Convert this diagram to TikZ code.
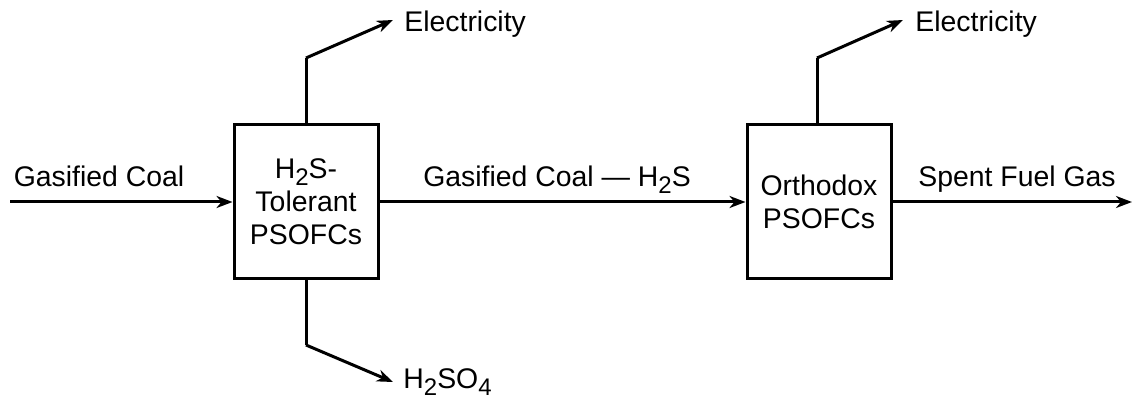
\documentclass[tikz,border=0pt]{standalone}
\usepackage{fontspec}
\setmainfont{Liberation Sans}
\usetikzlibrary{arrows.meta}
\newcommand{\sbs}[1]{\raisebox{-0.24em}{\fontsize{12}{12}\selectfont #1}}

\begin{document}
\begin{tikzpicture}[x=0.5pt,y=0.5pt,
    font=\fontsize{14.2}{16.5}\selectfont,
    cell/.style={draw,line width=1.5pt,align=center,minimum width=72pt,minimum height=77pt,inner sep=0pt},
    flow/.style={line width=1.5pt,-{Stealth[length=8pt,width=6pt,inset=2.5pt]}},
    pipe/.style={line width=1.5pt},
    lbl/.style={anchor=base,inner sep=0pt,yshift=7.5pt}]
    \useasboundingbox (0,0) rectangle (1132,402);
    % fuel cell stacks
    \node[cell] (tol) at (306,200) {H\sbs{2}S-\\Tolerant\\PSOFCs};
    \node[cell] (orth) at (819,200) {Orthodox\\PSOFCs};
    % free ends
    \coordinate (gcin) at (10,200);
    \coordinate (gcout) at (1132,200);
    \coordinate (e1bend) at (306,344);
    \coordinate (e1tip) at (393,382);
    \coordinate (e2bend) at (817,344);
    \coordinate (e2tip) at (903,382);
    \coordinate (sbend) at (306,57);
    \coordinate (stip) at (393,20);
    % main gas stream
    \draw[flow] (gcin) -- node[lbl,pos=.4] {Gasified Coal} (tol.west);
    \draw[flow] (tol.east) -- node[lbl,pos=.485] {Gasified Coal --- H\sbs{2}S} (orth.west);
    \draw[flow] (orth.east) -- node[lbl,pos=.52] {Spent Fuel Gas} (gcout);
    % products
    \draw[pipe] (tol.north) -- (e1bend);
    \draw[flow] (e1bend) -- (e1tip);
    \node[anchor=base west,inner sep=0pt] (elec1) at (404,370) {Electricity};
    \draw[pipe] (orth.north -| e2bend) -- (e2bend);
    \draw[flow] (e2bend) -- (e2tip);
    \node[anchor=base west,inner sep=0pt] (elec2) at (915,370) {Electricity};
    \draw[pipe] (tol.south) -- (sbend);
    \draw[flow] (sbend) -- (stip);
    \node[anchor=base west,inner sep=0pt] (acid) at (403,13) {H\sbs{2}SO\sbs{4}};
\end{tikzpicture}
\end{document}
